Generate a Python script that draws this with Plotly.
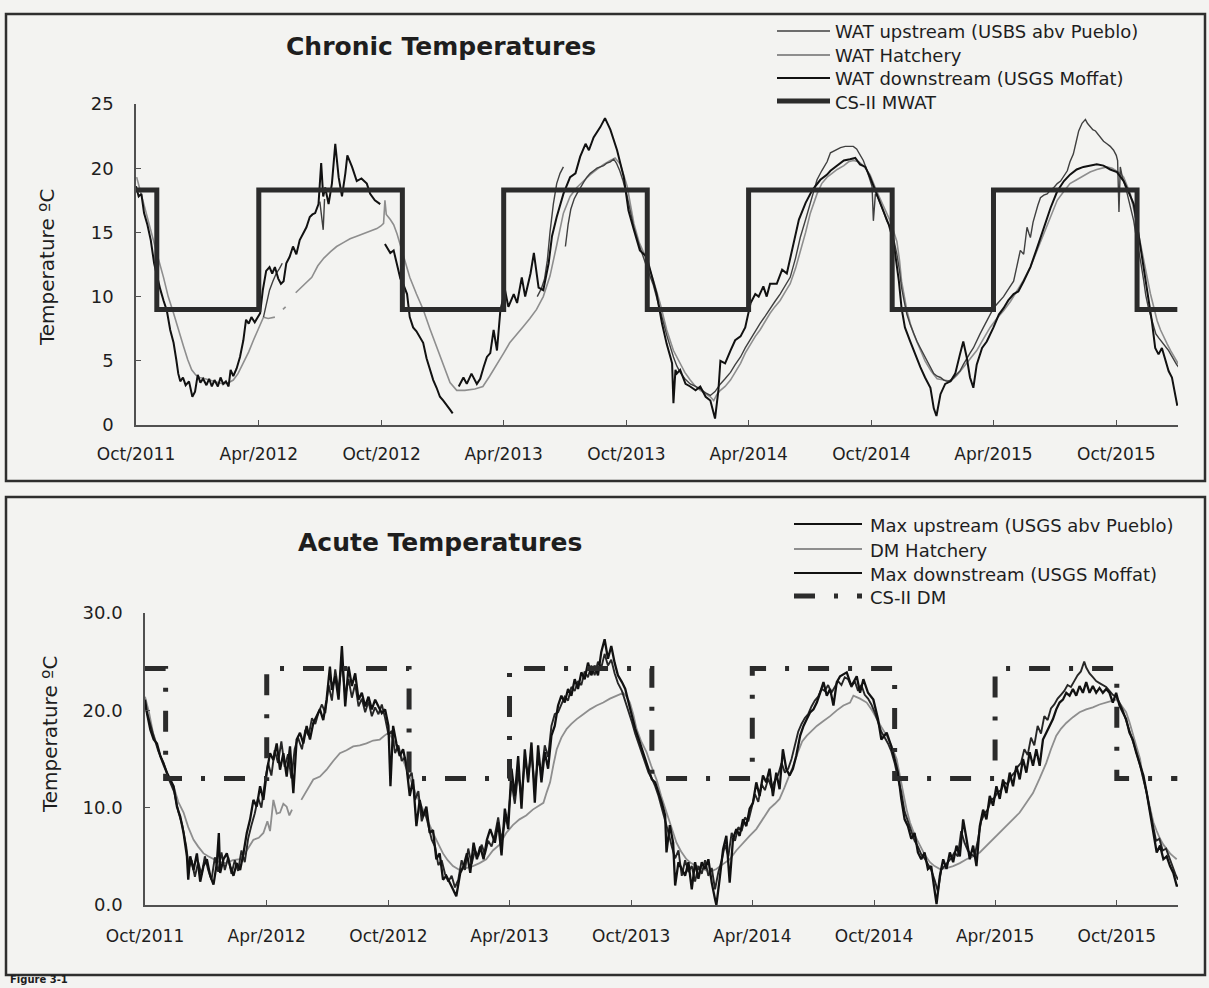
import plotly.graph_objects as go
import pandas as pd

W, H = 1209, 988
START = pd.Timestamp("2011-10-01")

# ---------------------------------------------------------------- data
# Each series: (days since 1 Oct 2011, temperature degC); None breaks the line.

top_upstream = [
    (190, 8.4), (194, 9.4), (199, 10.5), (204, 11.2), (209, 11.8), (214, 12.2), (218, 12.6), (219, None),
    (274, 17.4), (277, 16.0), (279, 15.2), (281, 17.6), (282, None),
    (598, 10.0), (604, 10.6), (609, 11.4), (613, 12.8), (617, 15.0), (622, 17.2), (627, 18.8), (632, 19.6),
    (637, 20.1), (638, None),
    (640, 13.9), (644, 15.6), (648, 16.8), (653, 17.6), (657, 18.0), (662, 18.5), (667, 18.9), (672, 19.3),
    (677, 19.6), (682, 19.8), (687, 20.0), (692, 20.1), (697, 20.2), (702, 20.4), (707, 20.5), (712, 20.7),
    (716, 20.4), (721, 19.8), (726, 19.0), (732, 17.8), (737, 16.6), (742, 15.4), (750, 14.0), (757, 12.9),
    (764, 11.9), (771, 10.9), (776, 10.0), (781, 9.0), (786, 8.0), (791, 7.0), (796, 6.1), (801, 5.3),
    (806, 4.6), (811, 4.1), (818, 3.6), (826, 3.2), (834, 3.0), (841, 2.8), (849, 2.5), (856, 2.3),
    (863, 2.6), (871, 3.2), (878, 3.6), (886, 4.1), (893, 4.7), (901, 5.3), (908, 6.0), (916, 6.7),
    (923, 7.2), (930, 7.9), (938, 8.5), (945, 9.1), (952, 9.6), (960, 10.2), (968, 10.9), (975, 11.5),
    (983, 13.0), (990, 14.6), (998, 16.0), (1005, 17.3), (1010, 18.3), (1015, 19.1), (1022, 19.8),
    (1030, 20.5), (1035, 21.2), (1042, 21.4), (1050, 21.6), (1057, 21.7), (1064, 21.7), (1069, 21.7),
    (1074, 21.5), (1079, 21.1), (1084, 20.6), (1089, 19.9), (1094, 19.0), (1097, 18.6), (1099, 15.9),
    (1102, 18.0), (1105, 17.8), (1109, 17.2), (1114, 16.6), (1119, 15.9), (1123, 15.5), (1127, 15.1),
    (1130, 14.3), (1134, 13.3), (1138, 12.0), (1141, 10.7), (1145, 9.6), (1149, 8.6), (1154, 7.8),
    (1159, 7.1), (1164, 6.5), (1169, 6.0), (1174, 5.5), (1179, 5.0), (1184, 4.5), (1189, 4.0), (1194, 3.8),
    (1199, 3.7), (1204, 3.5), (1209, 3.4), (1214, 3.5), (1219, 3.7), (1224, 4.0), (1228, 4.2), (1233, 4.7),
    (1238, 5.2), (1243, 5.6), (1248, 6.0), (1253, 6.6), (1258, 7.1), (1263, 7.6), (1268, 8.1), (1273, 8.6),
    (1278, 9.1), (1283, 9.4), (1288, 9.7), (1293, 10.0), (1298, 10.4), (1303, 10.8), (1308, 11.2),
    (1313, 12.4), (1318, 13.6), (1323, 13.3), (1326, 14.6), (1328, 15.4), (1331, 14.9), (1333, 14.6),
    (1337, 15.8), (1340, 16.4), (1344, 17.1), (1348, 17.7), (1353, 17.9), (1358, 18.0), (1363, 18.3),
    (1368, 18.5), (1373, 18.8), (1378, 19.0), (1383, 19.4), (1388, 19.8), (1392, 20.5), (1397, 21.1),
    (1401, 22.0), (1405, 22.9), (1410, 23.5), (1415, 23.8), (1418, 23.5), (1422, 23.2), (1426, 23.0),
    (1430, 22.9), (1434, 22.6), (1437, 22.4), (1442, 22.1), (1447, 21.9), (1452, 21.7), (1457, 21.4),
    (1461, 21.0), (1463, 20.6), (1465, 16.6), (1467, 20.1), (1470, 19.3), (1475, 18.5), (1479, 17.7),
    (1483, 16.8), (1487, 15.9), (1490, 14.9), (1494, 13.8), (1498, 12.5), (1502, 11.2), (1505, 10.1),
    (1509, 9.1), (1513, 8.3), (1517, 7.6), (1520, 7.1), (1524, 6.8), (1528, 6.5), (1532, 6.3), (1536, 6.0),
    (1539, 5.8), (1543, 5.4), (1547, 5.0), (1551, 4.7), (1554, 4.5),
]

top_hatchery = [
    (1, 19.3), (6, 18.3), (11, 17.2), (18, 15.8), (26, 14.4), (33, 13.0), (41, 11.5), (48, 10.0), (56, 8.7),
    (63, 7.4), (71, 6.1), (77, 5.1), (83, 4.3), (89, 3.9), (95, 3.7), (103, 3.6), (110, 3.5), (120, 3.3),
    (130, 3.2), (138, 3.3), (145, 3.5), (152, 4.0), (160, 4.8), (168, 5.7), (175, 6.6), (183, 7.5), (190, 8.4),
    (197, 8.3), (207, 8.4), (208, None), (219, 9.0), (223, 9.2), (224, None),
    (238, 10.3), (250, 10.9), (262, 11.5), (271, 12.4), (280, 13.0), (290, 13.5), (299, 13.9), (309, 14.2),
    (319, 14.5), (329, 14.7), (339, 14.9), (349, 15.1), (359, 15.3), (365, 15.5), (369, 15.7), (371, 17.5),
    (373, 16.4), (379, 16.0), (384, 15.6), (389, 14.9), (398, 13.2), (408, 11.5), (418, 10.2), (428, 9.0),
    (438, 7.5), (448, 6.1), (458, 4.6), (468, 3.3), (478, 2.7), (490, 2.7), (505, 2.8), (517, 3.0), (527, 3.8),
    (538, 4.8), (548, 5.6), (557, 6.4), (567, 7.0), (577, 7.65), (587, 8.3), (597, 9.0), (607, 10.0),
    (617, 11.6), (627, 14.0), (637, 16.5), (647, 17.8), (657, 18.5), (667, 19.0), (677, 19.5), (687, 19.9),
    (697, 20.3), (707, 20.6), (714, 20.8), (722, 20.3), (732, 18.6), (742, 15.7), (750, 14.2), (757, 13.4),
    (764, 12.3), (771, 11.3), (781, 9.5), (791, 7.4), (801, 5.8), (811, 4.8), (818, 4.1), (826, 3.5),
    (834, 3.0), (841, 2.7), (849, 2.4), (856, 2.2), (861, 1.9), (866, 2.4), (871, 2.7), (878, 3.0), (886, 3.5),
    (893, 4.1), (901, 4.8), (908, 5.6), (916, 6.3), (923, 6.9), (930, 7.4), (938, 8.1), (945, 8.7), (952, 9.2),
    (960, 9.7), (968, 10.4), (975, 11.0), (983, 12.2), (990, 13.5), (998, 15.0), (1005, 16.5), (1010, 17.3),
    (1015, 18.0), (1022, 18.8), (1030, 19.3), (1035, 19.5), (1045, 19.9), (1055, 20.2), (1062, 20.5),
    (1069, 20.6), (1077, 20.5), (1084, 20.2), (1094, 19.5), (1104, 18.2), (1114, 17.0), (1124, 15.9),
    (1134, 14.3), (1138, 12.8), (1141, 11.2), (1145, 10.0), (1149, 8.9), (1154, 7.9), (1159, 7.1),
    (1167, 6.1), (1176, 5.0), (1185, 4.2), (1194, 3.6), (1204, 3.5), (1214, 3.4), (1224, 3.9), (1233, 4.5),
    (1243, 5.1), (1253, 5.8), (1263, 6.7), (1273, 7.6), (1283, 8.3), (1293, 8.9), (1303, 9.6), (1313, 10.4),
    (1323, 11.3), (1333, 12.3), (1343, 13.6), (1353, 14.9), (1363, 16.2), (1373, 17.5), (1383, 18.2),
    (1392, 18.8), (1402, 19.1), (1412, 19.4), (1422, 19.7), (1432, 19.9), (1440, 20.0), (1447, 20.1),
    (1455, 20.0), (1462, 19.8), (1467, 19.6), (1472, 19.3), (1477, 18.7), (1482, 18.0), (1487, 16.8),
    (1492, 15.4), (1497, 14.1), (1502, 12.8), (1507, 11.5), (1512, 10.2), (1517, 9.1), (1522, 8.1),
    (1527, 7.4), (1532, 6.8), (1537, 6.3), (1542, 5.8), (1548, 5.2), (1554, 4.7),
]

top_downstream = [
    (0, 18.6), (4, 17.8), (8, 18.0), (12, 16.5), (17, 15.6), (22, 14.4), (27, 12.6), (31, 11.6), (36, 10.6),
    (41, 9.7), (46, 8.9), (51, 7.4), (56, 6.4), (60, 5.1), (63, 4.0), (66, 3.4), (70, 3.7), (74, 3.1),
    (79, 3.4), (84, 2.2), (88, 2.6), (92, 3.9), (96, 3.3), (100, 3.6), (105, 3.1), (109, 3.6), (113, 3.0),
    (117, 3.5), (122, 3.0), (126, 3.7), (130, 3.2), (134, 3.4), (138, 3.0), (141, 4.3), (145, 3.8), (150, 4.4),
    (155, 5.3), (160, 6.6), (164, 8.2), (168, 7.9), (172, 8.4), (177, 8.0), (181, 8.3), (185, 8.7), (189, 10.5),
    (194, 12.0), (199, 12.3), (203, 11.8), (207, 12.3), (212, 11.4), (216, 11.0), (220, 11.2), (224, 12.6),
    (229, 13.1), (234, 13.9), (239, 13.3), (244, 14.4), (249, 14.9), (254, 15.4), (259, 16.2), (263, 16.4),
    (267, 16.5), (272, 17.2), (276, 20.4), (279, 17.8), (282, 18.5), (287, 17.2), (292, 18.8), (297, 21.9),
    (302, 19.3), (307, 17.8), (312, 19.6), (315, 21.0), (322, 20.1), (329, 19.0), (336, 19.2), (344, 18.8),
    (349, 18.0), (356, 17.5), (364, 17.2), (366, None),
    (371, 14.1), (376, 13.6), (379, 13.4), (384, 13.6), (389, 12.5), (394, 11.4), (398, 11.0), (404, 10.2),
    (408, 8.4), (413, 7.6), (418, 7.3), (423, 6.9), (428, 6.4), (433, 5.2), (438, 4.3), (443, 3.5), (448, 2.9),
    (453, 2.2), (458, 1.9), (463, 1.5), (468, 1.2), (472, 0.9), (476, None),
    (481, 3.0), (488, 3.7), (493, 3.2), (500, 4.0), (508, 3.2), (513, 3.6), (518, 4.5), (523, 5.3), (528, 5.6),
    (533, 7.4), (538, 5.8), (543, 8.9), (550, 10.5), (555, 9.2), (563, 10.2), (568, 9.5), (575, 11.5),
    (580, 10.0), (588, 11.8), (593, 13.4), (600, 10.7), (607, 10.5), (615, 12.6), (620, 14.7), (627, 16.2),
    (637, 18.0), (647, 19.3), (655, 19.6), (662, 20.9), (670, 21.9), (675, 21.4), (682, 22.4), (692, 23.2),
    (699, 23.9), (707, 23.0), (717, 21.4), (727, 19.3), (734, 16.7), (742, 15.2), (751, 13.6), (761, 13.1),
    (769, 11.5), (776, 10.2), (784, 7.9), (791, 6.3), (797, 5.2), (799, 4.8), (801, 1.7), (804, 4.3),
    (806, 4.0), (811, 4.3), (819, 3.2), (826, 3.0), (834, 2.7), (841, 3.0), (849, 2.2), (856, 1.9), (863, 0.5),
    (868, 2.7), (871, 5.0), (878, 4.8), (886, 5.8), (893, 6.6), (901, 6.9), (908, 7.6), (916, 9.5),
    (923, 10.2), (928, 10.0), (935, 10.8), (940, 10.0), (945, 11.0), (955, 11.0), (963, 12.1), (970, 11.8),
    (978, 13.6), (988, 16.0), (998, 17.3), (1008, 18.3), (1020, 19.1), (1030, 19.5), (1035, 19.8),
    (1045, 20.2), (1055, 20.6), (1064, 20.7), (1072, 20.8), (1079, 20.3), (1087, 20.1), (1094, 19.3),
    (1104, 18.0), (1114, 16.7), (1122, 15.6), (1129, 14.3), (1137, 11.2), (1141, 9.1), (1146, 7.6),
    (1154, 6.5), (1161, 5.5), (1169, 4.5), (1176, 3.7), (1184, 2.9), (1189, 1.3), (1193, 0.7), (1199, 2.4),
    (1206, 3.2), (1214, 3.4), (1221, 4.0), (1228, 5.5), (1233, 6.5), (1238, 5.3), (1243, 3.7), (1248, 2.9),
    (1253, 4.7), (1261, 6.0), (1268, 6.5), (1278, 7.6), (1286, 8.6), (1293, 9.1), (1300, 9.7), (1308, 10.2),
    (1315, 10.4), (1323, 11.2), (1333, 12.3), (1343, 13.8), (1353, 15.4), (1363, 16.9), (1373, 18.2),
    (1383, 19.0), (1392, 19.5), (1402, 19.9), (1412, 20.1), (1422, 20.2), (1432, 20.3), (1442, 20.2),
    (1452, 19.9), (1462, 19.7), (1472, 19.0), (1479, 18.2), (1487, 17.2), (1494, 14.9), (1502, 12.3),
    (1509, 9.7), (1514, 8.1), (1519, 6.0), (1524, 5.5), (1529, 6.0), (1534, 5.0), (1539, 4.2), (1544, 3.7),
    (1549, 2.4), (1552, 1.5),
]

# CS-II standards: value in force from each date onward
mwat_steps = [("2011-10-01", 18.3), ("2011-11-01", 9.0), ("2012-04-01", 18.3), ("2012-11-01", 9.0),
              ("2013-04-01", 18.3), ("2013-11-01", 9.0), ("2014-04-01", 18.3), ("2014-11-01", 9.0),
              ("2015-04-01", 18.3), ("2015-11-01", 9.0), ("2015-12-31", 9.0)]

dm_steps = [("2011-10-01", 24.3), ("2011-11-01", 13.0), ("2012-04-01", 24.3), ("2012-11-01", 13.0),
            ("2013-04-01", 24.3), ("2013-11-01", 13.0), ("2014-04-01", 24.3), ("2014-11-01", 13.0),
            ("2015-04-01", 24.3), ("2015-10-01", 13.0), ("2015-12-31", 13.0)]

bot_upstream = [
    (0, 20.5), (6, 19.0), (12, 17.6), (20, 15.8), (28, 14.6), (36, 12.9), (44, 11.6), (50, 9.6), (56, 8.2),
    (62, 6.0), (66, 3.8), (70, 4.6), (75, 2.9), (80, 4.4), (85, 3.1), (90, 5.0), (95, 3.6), (100, 2.6),
    (105, 4.9), (110, 3.4), (115, 5.4), (120, 3.6), (125, 4.9), (130, 3.2), (135, 4.6), (140, 3.5), (145, 5.6),
    (150, 4.4), (155, 6.8), (160, 8.2), (165, 9.4), (170, 11.0), (175, 10.0), (180, 12.5), (185, 14.6),
    (190, 13.3), (195, 15.9), (200, 14.6), (205, 16.8), (210, 14.2), (215, 15.5), (220, 13.0), (225, 16.0),
    (230, 17.2), (236, 16.0), (241, 18.0), (246, 17.4), (251, 19.2), (256, 18.6), (261, 19.8), (266, 20.6),
    (271, 19.7), (276, 22.6), (281, 21.0), (286, 24.2), (291, 22.0), (296, 25.0), (301, 21.5), (306, 23.2),
    (311, 21.3), (316, 22.7), (321, 20.4), (326, 21.2), (331, 19.8), (336, 20.9), (341, 19.4), (346, 20.3),
    (351, 19.6), (356, 20.6), (361, 19.2), (366, 17.5), (371, 17.9), (376, 15.6), (381, 16.4), (386, 14.8),
    (391, 15.2), (396, 13.0), (401, 13.6), (406, 10.8), (411, 11.7), (416, 8.6), (421, 9.6), (426, 8.2),
    (431, 6.7), (436, 6.0), (441, 4.1), (446, 4.6), (451, 3.2), (456, 2.4), (461, 3.0), (466, 1.8), (471, 2.6),
    (476, 4.6), (481, 3.6), (486, 5.8), (491, 4.2), (496, 5.6), (501, 5.0), (506, 6.2), (511, 5.2), (516, 6.6),
    (521, 6.0), (526, 7.2), (531, 9.0), (536, 6.6), (541, 8.6), (546, 9.0), (551, 12.6), (556, 10.4),
    (561, 13.6), (566, 11.0), (571, 14.8), (576, 13.4), (581, 15.6), (586, 12.0), (591, 15.0), (596, 13.6),
    (601, 16.4), (606, 15.2), (611, 18.4), (616, 19.6), (621, 19.8), (626, 20.6), (631, 21.4), (636, 21.0),
    (641, 22.4), (646, 22.0), (651, 23.0), (656, 22.6), (661, 24.0), (666, 23.4), (671, 24.6), (676, 23.6),
    (681, 25.0), (686, 24.4), (691, 25.8), (696, 24.6), (701, 25.2), (706, 23.8), (711, 22.8), (717, 22.0),
    (722, 21.0), (727, 20.0), (732, 18.8), (737, 17.6), (742, 16.6), (747, 15.6), (752, 14.6), (757, 13.6),
    (762, 13.0), (767, 12.2), (772, 11.2), (777, 10.0), (782, 8.6), (787, 7.4), (792, 6.0), (797, 4.8),
    (802, 5.6), (807, 3.0), (812, 4.6), (817, 3.4), (822, 4.0), (827, 2.4), (832, 4.0), (837, 3.2), (842, 4.6),
    (847, 3.0), (852, 3.8), (857, 1.6), (862, 3.4), (867, 4.6), (872, 6.2), (877, 5.0), (882, 7.4), (887, 6.6),
    (892, 8.0), (897, 7.6), (902, 9.0), (907, 8.6), (912, 10.0), (917, 11.4), (922, 10.6), (927, 12.4),
    (932, 11.8), (937, 13.0), (942, 12.0), (947, 12.8), (952, 13.4), (957, 14.6), (962, 13.6), (967, 14.0),
    (972, 15.0), (977, 16.4), (982, 17.8), (987, 18.6), (992, 19.2), (997, 19.6), (1002, 20.4), (1007, 21.0),
    (1012, 21.4), (1017, 22.2), (1022, 22.0), (1027, 22.6), (1032, 21.8), (1037, 22.4), (1042, 23.0),
    (1047, 22.6), (1052, 23.4), (1057, 23.2), (1062, 22.4), (1067, 23.0), (1072, 22.0), (1077, 22.6),
    (1082, 21.6), (1087, 21.2), (1092, 20.6), (1097, 19.8), (1102, 18.8), (1107, 17.8), (1112, 17.2),
    (1117, 16.6), (1122, 15.8), (1127, 14.6), (1132, 13.0), (1137, 11.6), (1142, 9.6), (1147, 8.6), (1152, 7.6),
    (1157, 6.6), (1162, 6.0), (1167, 5.2), (1172, 4.8), (1177, 4.2), (1182, 3.6), (1187, 2.6), (1192, 1.4),
    (1197, 3.6), (1202, 4.0), (1207, 4.4), (1212, 4.8), (1217, 5.4), (1222, 5.0), (1227, 7.6), (1232, 6.4),
    (1237, 5.6), (1242, 5.2), (1247, 5.0), (1252, 6.6), (1257, 8.6), (1262, 9.4), (1267, 9.8), (1272, 10.8),
    (1277, 11.0), (1282, 11.6), (1287, 11.8), (1292, 12.6), (1297, 12.4), (1302, 13.2), (1307, 13.6),
    (1312, 14.2), (1317, 14.6), (1322, 16.0), (1327, 15.4), (1332, 17.2), (1337, 16.4), (1342, 18.4),
    (1347, 17.6), (1352, 19.4), (1357, 19.0), (1362, 20.2), (1367, 20.6), (1372, 21.2), (1377, 21.6),
    (1382, 22.0), (1387, 22.6), (1392, 22.4), (1397, 23.0), (1402, 23.6), (1407, 24.0), (1412, 25.0),
    (1415, 24.4), (1420, 23.8), (1425, 23.4), (1430, 23.0), (1435, 22.8), (1440, 22.6), (1445, 22.4),
    (1450, 22.0), (1455, 21.6), (1460, 21.4), (1465, 20.8), (1470, 20.0), (1475, 19.0), (1480, 18.0),
    (1485, 17.0), (1490, 15.8), (1495, 14.6), (1500, 13.2), (1505, 11.8), (1510, 10.0), (1515, 8.2),
    (1520, 6.6), (1525, 6.8), (1530, 5.6), (1535, 5.8), (1540, 4.8), (1545, 4.0), (1550, 3.0), (1553, 2.6),
]

bot_hatchery = [
    (0, 21.4), (6, 19.8), (12, 17.7), (20, 16.0), (28, 14.3), (36, 13.0), (43, 12.2), (50, 10.6), (58, 9.5),
    (65, 8.0), (73, 6.7), (80, 6.0), (88, 5.3), (95, 5.0), (103, 4.7), (112, 4.4), (122, 4.3), (132, 4.6),
    (143, 4.7), (153, 5.6), (163, 6.7), (171, 6.9), (178, 7.4), (184, 8.6), (188, 7.6), (193, 10.8), (198, 9.4),
    (203, 9.5), (208, 10.4), (213, 10.1), (217, 9.2), (221, 9.8), (222, None),
    (235, 10.8), (243, 11.8), (253, 12.9), (263, 13.2), (273, 13.9), (283, 14.8), (293, 15.6), (303, 15.9),
    (313, 16.3), (323, 16.4), (333, 16.6), (343, 16.9), (353, 17.0), (360, 17.4), (366, 17.7), (373, 17.0),
    (380, 16.0), (388, 14.9), (395, 13.6), (403, 12.2), (410, 11.0), (418, 9.8), (425, 8.6), (433, 7.4),
    (440, 6.4), (448, 5.3), (455, 4.6), (463, 4.0), (473, 3.6), (483, 3.8), (493, 4.0), (503, 4.3), (513, 4.7),
    (523, 5.6), (533, 6.2), (543, 7.4), (553, 8.2), (563, 8.8), (573, 9.2), (583, 9.8), (593, 10.2),
    (599, 10.5), (604, 11.6), (609, 12.6), (614, 14.4), (619, 16.0), (626, 17.2), (634, 18.1), (641, 18.6),
    (649, 19.1), (659, 19.6), (669, 20.1), (679, 20.5), (689, 20.8), (699, 21.2), (709, 21.5), (719, 21.8),
    (724, 21.4), (729, 20.8), (734, 19.6), (739, 18.1), (746, 16.8), (754, 15.7), (761, 14.3), (769, 12.9),
    (776, 11.2), (784, 9.5), (791, 7.9), (799, 6.4), (806, 5.5), (814, 4.7), (821, 4.3), (829, 4.0),
    (839, 3.7), (849, 3.4), (859, 3.7), (869, 4.2), (879, 4.7), (889, 5.6), (899, 6.4), (909, 7.1),
    (919, 7.8), (929, 8.8), (939, 9.9), (947, 10.4), (954, 10.9), (961, 12.0), (969, 13.3), (975, 14.4),
    (981, 15.6), (988, 16.8), (995, 17.4), (1002, 17.9), (1010, 18.4), (1020, 18.9), (1030, 19.4),
    (1040, 20.0), (1050, 20.5), (1060, 20.8), (1065, 21.5), (1075, 21.2), (1085, 20.8), (1093, 20.0),
    (1100, 19.1), (1107, 18.3), (1115, 17.4), (1122, 16.4), (1130, 15.0), (1135, 13.4), (1140, 11.5),
    (1145, 9.8), (1150, 8.5), (1157, 7.2), (1165, 6.1), (1172, 5.2), (1180, 4.4), (1187, 4.0), (1195, 3.7),
    (1205, 3.8), (1215, 4.0), (1225, 4.3), (1235, 4.7), (1245, 5.0), (1255, 5.4), (1265, 6.1), (1275, 6.8),
    (1285, 7.4), (1295, 8.1), (1305, 8.8), (1315, 9.5), (1325, 10.5), (1335, 11.5), (1345, 13.0),
    (1355, 14.6), (1362, 16.0), (1370, 17.4), (1377, 18.1), (1385, 18.7), (1395, 19.3), (1405, 19.8),
    (1415, 20.1), (1425, 20.3), (1435, 20.6), (1445, 20.8), (1452, 21.0), (1460, 21.1), (1467, 20.6),
    (1475, 19.8), (1480, 18.8), (1485, 17.7), (1490, 16.4), (1496, 15.0), (1500, 13.2), (1506, 11.5),
    (1511, 9.9), (1516, 8.5), (1521, 7.6), (1526, 6.8), (1531, 6.2), (1536, 5.7), (1541, 5.3), (1546, 5.0),
    (1551, 4.7),
]

bot_downstream = [
    (0, 21.1), (3, 19.7), (8, 18.0), (13, 17.0), (18, 16.6), (23, 15.3), (33, 13.6), (43, 12.2), (48, 10.1),
    (53, 9.1), (58, 7.4), (63, 5.0), (65, 2.6), (68, 5.0), (73, 3.6), (78, 5.3), (83, 2.4), (88, 4.0), (93, 4.7),
    (98, 3.0), (103, 2.1), (108, 4.3), (111, 7.4), (113, 3.3), (118, 4.7), (123, 5.3), (128, 4.0), (133, 3.0),
    (138, 4.3), (143, 3.6), (148, 5.3), (153, 7.4), (158, 8.8), (163, 10.8), (168, 10.1), (173, 12.2),
    (178, 10.8), (183, 13.6), (188, 15.6), (193, 14.9), (198, 16.6), (203, 13.9), (208, 15.6), (213, 13.2),
    (218, 16.3), (223, 11.5), (228, 17.0), (233, 17.7), (238, 16.6), (243, 18.4), (248, 17.0), (253, 18.7),
    (258, 19.4), (263, 20.1), (268, 19.0), (273, 21.1), (278, 24.5), (281, 22.1), (286, 23.5), (291, 21.1),
    (296, 26.6), (301, 20.4), (306, 24.5), (311, 22.5), (316, 23.8), (321, 21.1), (326, 21.8), (331, 20.4),
    (336, 21.4), (341, 20.1), (346, 21.1), (351, 20.4), (356, 19.7), (361, 20.1), (366, 18.4), (369, 12.2),
    (373, 18.4), (378, 16.6), (383, 15.3), (388, 16.0), (393, 14.3), (398, 11.2), (403, 12.9), (408, 8.1),
    (413, 10.8), (418, 9.1), (423, 10.1), (428, 7.4), (433, 7.7), (438, 4.7), (443, 5.3), (448, 2.6),
    (453, 3.0), (461, 1.9), (468, 0.9), (474, 3.3), (479, 4.0), (484, 5.3), (489, 3.3), (494, 6.4), (499, 4.7),
    (504, 6.0), (509, 4.7), (514, 6.7), (519, 7.8), (526, 6.4), (531, 8.5), (536, 5.1), (541, 9.9), (546, 7.8),
    (551, 14.0), (556, 11.2), (561, 15.3), (566, 9.9), (571, 16.0), (576, 12.6), (581, 16.7), (586, 10.5),
    (591, 16.4), (596, 12.6), (601, 15.7), (606, 14.0), (611, 17.4), (616, 18.4), (621, 20.5), (626, 21.5),
    (631, 20.8), (636, 22.2), (641, 21.5), (646, 23.2), (651, 22.2), (656, 23.9), (661, 23.2), (666, 24.9),
    (671, 23.6), (676, 24.6), (681, 23.6), (686, 26.0), (691, 27.3), (696, 25.3), (701, 26.6), (706, 24.9),
    (711, 23.6), (717, 22.9), (722, 22.2), (727, 20.8), (732, 19.4), (737, 18.1), (742, 17.1), (747, 16.0),
    (752, 15.0), (757, 14.0), (762, 12.9), (767, 12.6), (772, 11.6), (777, 10.5), (782, 9.2), (784, 5.4),
    (789, 8.2), (794, 6.4), (797, 2.0), (802, 4.4), (807, 3.7), (812, 3.0), (817, 4.4), (822, 1.6), (827, 4.4),
    (832, 2.7), (837, 4.4), (842, 3.7), (847, 4.7), (852, 2.3), (857, 0.6), (859, 0.0), (864, 2.7), (869, 5.7),
    (874, 7.1), (879, 2.3), (884, 6.8), (889, 7.8), (894, 7.1), (899, 8.8), (904, 8.1), (909, 9.9), (914, 10.5),
    (919, 12.6), (924, 11.2), (929, 13.3), (934, 12.6), (939, 14.0), (944, 11.2), (949, 13.6), (954, 11.9),
    (959, 16.0), (964, 14.0), (969, 13.3), (974, 14.0), (979, 15.3), (985, 17.4), (990, 18.4), (995, 19.1),
    (1000, 19.8), (1005, 20.1), (1010, 20.8), (1015, 21.8), (1020, 22.9), (1025, 21.5), (1030, 22.2),
    (1035, 20.5), (1040, 22.9), (1045, 23.5), (1055, 23.9), (1062, 22.5), (1070, 23.5), (1075, 21.8),
    (1080, 23.2), (1087, 21.8), (1095, 21.1), (1102, 19.1), (1107, 17.0), (1115, 17.7), (1122, 16.3),
    (1127, 15.0), (1132, 13.6), (1137, 10.9), (1142, 8.8), (1147, 8.1), (1152, 6.8), (1157, 7.4), (1162, 5.4),
    (1167, 4.7), (1172, 5.4), (1177, 3.7), (1182, 4.0), (1186, 2.0), (1190, 0.1), (1195, 3.0), (1200, 4.7),
    (1205, 3.7), (1210, 5.4), (1215, 4.4), (1220, 6.1), (1225, 5.0), (1230, 8.8), (1235, 6.8), (1240, 4.7),
    (1245, 6.1), (1250, 4.0), (1255, 8.1), (1260, 9.8), (1265, 8.8), (1270, 11.2), (1275, 10.2), (1280, 12.2),
    (1285, 10.9), (1290, 12.9), (1295, 11.5), (1300, 13.6), (1305, 12.2), (1310, 14.3), (1315, 12.9),
    (1320, 15.0), (1325, 13.6), (1330, 15.7), (1335, 14.3), (1340, 16.0), (1345, 14.3), (1350, 17.0),
    (1355, 17.7), (1360, 18.4), (1365, 19.1), (1370, 20.1), (1375, 20.8), (1380, 21.1), (1385, 21.8),
    (1390, 21.5), (1395, 22.2), (1400, 21.5), (1405, 22.5), (1410, 21.8), (1415, 22.9), (1420, 21.8),
    (1425, 22.5), (1430, 21.8), (1435, 22.3), (1440, 21.8), (1445, 22.2), (1450, 21.8), (1455, 20.8),
    (1460, 21.8), (1465, 20.5), (1470, 19.8), (1475, 19.1), (1480, 17.7), (1485, 17.0), (1490, 15.7),
    (1496, 14.3), (1501, 13.3), (1506, 11.5), (1511, 9.5), (1516, 7.4), (1521, 5.4), (1526, 6.1), (1531, 4.7),
    (1536, 5.0), (1541, 4.0), (1546, 3.3), (1551, 2.0), (1553, 2.0),
]

tick_dates = ["2011-10-01", "2012-04-01", "2012-10-01", "2013-04-01", "2013-10-01",
              "2014-04-01", "2014-10-01", "2015-04-01", "2015-10-01"]
tick_text = ["Oct/2011", "Apr/2012", "Oct/2012", "Apr/2013", "Oct/2013",
             "Apr/2014", "Oct/2014", "Apr/2015", "Oct/2015"]

top_names = ["WAT upstream (USBS abv Pueblo)", "WAT Hatchery", "WAT downstream (USGS Moffat)", "CS-II MWAT"]
bot_names = ["Max upstream (USGS abv Pueblo)", "DM Hatchery", "Max downstream (USGS Moffat)", "CS-II DM"]

# ---------------------------------------------------------------- styling
FONT = "DejaVu Sans"
INK = "#1e1e1e"
C_UP, C_HATCH, C_DOWN, C_STD = "#404040", "#8e8e8e", "#111111", "#2b2b2b"
DM_DASH = "21px,19px,4px,19px"


def px(x):
    return x / W


def py(y):
    return 1 - y / H


def xy(series):
    xs = [START + pd.Timedelta(days=d) for d, _ in series]
    ys = [v for _, v in series]
    return xs, ys


fig = go.Figure()


def add_line(series, xa, ya, color, width, name):
    xs, ys = xy(series)
    fig.add_trace(go.Scatter(x=xs, y=ys, mode="lines", name=name, xaxis=xa, yaxis=ya,
                             line=dict(color=color, width=width), connectgaps=False,
                             showlegend=False, hoverinfo="skip"))


def add_standard(steps, xa, ya, width, dash, name):
    fig.add_trace(go.Scatter(x=[d for d, _ in steps], y=[v for _, v in steps], mode="lines",
                             name=name, xaxis=xa, yaxis=ya, line_shape="hv",
                             line=dict(color=C_STD, width=width, dash=dash),
                             showlegend=False, hoverinfo="skip"))


# chronic panel
add_line(top_hatchery, "x", "y", C_HATCH, 1.6, top_names[1])
add_line(top_upstream, "x", "y", C_UP, 1.4, top_names[0])
add_line(top_downstream, "x", "y", C_DOWN, 2.0, top_names[2])
add_standard(mwat_steps, "x", "y", 5, "solid", top_names[3])

# acute panel
add_line(bot_hatchery, "x2", "y2", C_HATCH, 1.8, bot_names[1])
add_line(bot_upstream, "x2", "y2", "#262626", 1.9, bot_names[0])
add_line(bot_downstream, "x2", "y2", C_DOWN, 2.3, bot_names[2])
add_standard(dm_steps, "x2", "y2", 5, DM_DASH, bot_names[3])

axis_common = dict(showline=True, linecolor="#505050", linewidth=1.5, ticks="inside", ticklen=5,
                   tickcolor="#505050", tickwidth=1.2, showgrid=False, zeroline=False, automargin=False,
                   tickfont=dict(family=FONT, size=17, color=INK))

x_common = dict(axis_common, type="date", range=["2011-10-01", "2016-01-01"],
                tickmode="array", tickvals=tick_dates, ticktext=tick_text)

fig.update_layout(
    width=W, height=H, margin=dict(l=0, r=0, t=0, b=0, pad=0, autoexpand=False),
    paper_bgcolor="#f3f3f1", plot_bgcolor="rgba(0,0,0,0)", showlegend=False,
    xaxis=dict(x_common, domain=[px(136), px(1178)], anchor="y", ticklabelstandoff=13),
    yaxis=dict(axis_common, domain=[py(425), py(104)], anchor="x", range=[0, 25],
               tickmode="array", tickvals=[0, 5, 10, 15, 20, 25], ticklabelstandoff=17,
               tickfont=dict(family=FONT, size=18, color=INK)),
    xaxis2=dict(x_common, domain=[px(145), px(1178)], anchor="y2", ticklabelstandoff=15),
    yaxis2=dict(axis_common, domain=[py(905), py(613)], anchor="x2", range=[0, 30],
                tickmode="array", tickvals=[0, 10, 20, 30], tickformat=".1f", ticklabelstandoff=17,
                tickfont=dict(family=FONT, size=18, color=INK)),
)

# panel frames
for y0, y1 in [(14, 481), (497, 975)]:
    fig.add_shape(type="rect", xref="paper", yref="paper", x0=px(6), x1=px(1205), y0=py(y1), y1=py(y0),
                  line=dict(color="#2e2e2e", width=2.5), fillcolor="rgba(0,0,0,0)", layer="below")

annotations = [
    dict(text="<b>Chronic Temperatures</b>", x=px(441), y=py(47), font=dict(size=25)),
    dict(text="<b>Acute Temperatures</b>", x=px(440), y=py(542), font=dict(size=25)),
    dict(text="Temperature ºC", x=px(47), y=py(268), textangle=-90, font=dict(size=20)),
    dict(text="Temperature ºC", x=px(50), y=py(735), textangle=-90, font=dict(size=20)),
]

# legend rows: line sample, then label
top_rows = [31, 55, 78, 101]
bot_rows = [524, 549, 573, 596]
top_styles = [(C_UP, 1.6, "solid"), (C_HATCH, 1.8, "solid"), (C_DOWN, 1.8, "solid"), (C_STD, 5, "solid")]
bot_styles = [(C_DOWN, 1.8, "solid"), (C_HATCH, 1.8, "solid"), (C_DOWN, 1.8, "solid"), (C_STD, 5, DM_DASH)]

for rows, names, styles, lx0, lx1, tx in [(top_rows, top_names, top_styles, 777, 830, 833),
                                         (bot_rows, bot_names, bot_styles, 794, 862, 868)]:
    for yrow, name, (col, wid, dash) in zip(rows, names, styles):
        fig.add_shape(type="line", xref="paper", yref="paper", x0=px(lx0), x1=px(lx1),
                      y0=py(yrow), y1=py(yrow), line=dict(color=col, width=wid, dash=dash))
        annotations.append(dict(text=name, x=px(tx), y=py(yrow + 1), xanchor="left",
                                font=dict(size=18)))

annotations.append(dict(text="<b>Figure 3-1</b>", x=px(8), y=py(987), xanchor="left", yanchor="bottom",
                        font=dict(size=10)))

for a in annotations:
    a.setdefault("xanchor", "center")
    a.setdefault("yanchor", "middle")
    a["xref"] = "paper"
    a["yref"] = "paper"
    a["showarrow"] = False
    a["font"] = dict(family=FONT, color=INK, **a["font"])
fig.update_layout(annotations=annotations)

fig.write_html("out.html")
